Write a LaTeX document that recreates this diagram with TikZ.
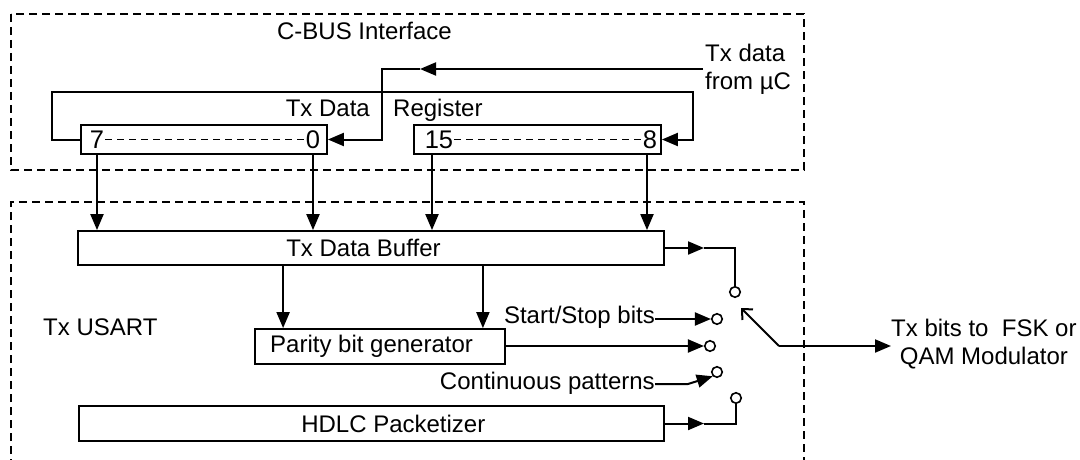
\documentclass[tikz,border=0pt]{standalone}
\usepackage{fontspec}
\setmainfont{Liberation Sans}
\usetikzlibrary{arrows.meta}
\begin{document}
\begin{tikzpicture}[x=1pt,y=-1pt,
  every node/.style={font=\fontsize{24}{28}\selectfont},
  box/.style={draw, line width=1.8pt, inner sep=0pt},
  lbl/.style={inner sep=0pt},
  num/.style={inner sep=1pt, font=\fontsize{25.5}{28}\selectfont},
  conn/.style={line width=2pt},
  arr/.style={conn, -{Triangle[length=16pt,width=13pt]}},
  openarr/.style={conn, -{Straight Barb[length=8pt,width=15pt]}},
  frame/.style={line width=2pt, dash pattern=on 8pt off 5pt},
  bitdash/.style={line width=1.8pt, dash pattern=on 7pt off 5pt},
  swc/.style={draw, circle, line width=1.6pt, minimum size=10.5pt, inner sep=0pt},
]
\useasboundingbox (0,0) rectangle (1080,460);
\clip (0,0) rectangle (1080,460);
\fill[white] (0,0) rectangle (1080,460);

% frames
\draw[frame] (11,14) rectangle (804,170);
\draw[frame] (11,480) -- (11,202) -- (804,202) -- (804,480);

\node[lbl, anchor=base] (cbus) at (364.5,40) {C-BUS Interface};

% register boxes
\node[box, minimum width=246pt, minimum height=29pt] (reg1) at (204,139.5) {};
\node[box, minimum width=247pt, minimum height=29pt] (reg2) at (537.5,139.5) {};
\node[num] (n7) at (97,139.5) {7};
\node[num] (n0) at (313,139.5) {0};
\node[num] (n15) at (439,139.5) {15};
\node[num] (n8) at (650,139.5) {8};
\draw[bitdash] (n7.east) -- (n0.west);
\draw[bitdash] (n15.east) -- (n8.west);

\node[lbl, anchor=base east] (txdl) at (370,117) {Tx Data};
\node[lbl, anchor=base west] (regl) at (393,117) {Register};

% input loop
\node[anchor=west, align=left, inner sep=2pt] (txin) at (703,69) {Tx data\\from µC};
\coordinate (a0) at (420,69);
\coordinate (t1) at (382,69);
\draw[arr] (txin.west) -- (a0);
\draw[arr] (a0) -- (t1) |- (reg1.east);

\coordinate (l1) at (52,92);
\coordinate (r1) at (693,92);
\draw[arr] (reg1.west) -| (l1) -- (r1) |- (reg2.east);

% buffer
\node[box, minimum width=586pt, minimum height=34pt] (buf) at (371,248) {};
\node[lbl, anchor=west] (buftxt) at ([xshift=209pt]buf.west) {Tx Data Buffer};

\coordinate (x15) at ([xshift=-7pt]n15.center);
\coordinate (x8) at ([xshift=-3pt]n8.center);
\draw[arr] (n7 |- reg1.south) -- (n7 |- buf.north);
\draw[arr] (n0 |- reg1.south) -- (n0 |- buf.north);
\draw[arr] (x15 |- reg2.south) -- (x15 |- buf.north);
\draw[arr] (x8 |- reg2.south) -- (x8 |- buf.north);

% parity
\node[box, minimum width=250pt, minimum height=35pt] (par) at (380,346.5) {};
\node[lbl, anchor=base west] (partxt) at (270,352) {Parity bit generator};
\coordinate (p1) at ([xshift=29pt]par.north west);
\coordinate (p2) at ([xshift=-23pt]par.north east);
\draw[arr] (p1 |- buf.south) -- (p1);
\draw[arr] (p2 |- buf.south) -- (p2);

% HDLC
\node[box, minimum width=585pt, minimum height=35pt] (hdlc) at (371.5,423.5) {};
\node[lbl, anchor=west] (hdlctxt) at ([xshift=223pt]hdlc.west) {HDLC Packetizer};

\node[lbl, anchor=base west] (usart) at (43,335) {Tx USART};

% switch contacts
\node[swc] (c1) at (735,292) {};
\node[swc] (c2) at (717,319) {};
\node[swc] (c3) at (710,346) {};
\node[swc] (c4) at (717,372) {};
\node[swc] (c5) at (736,398) {};

\coordinate (m1) at (704,248);
\draw[arr] (buf.east) -- (m1);
\draw[conn] (m1) -| (c1.north);

\node[lbl, anchor=base east] (ss) at (655,323) {Start/Stop bits};
\draw[arr] (ss.east |- c2) -- (c2.west);

\draw[arr] (par.east |- c3) -- (c3.west);

\node[lbl, anchor=base east] (cp) at (655,389) {Continuous patterns};
\coordinate (k1) at (688,384);
\draw[arr] (cp.east |- k1) -- (k1) -- (c4.south west);

\coordinate (m5) at (704,423.5);
\draw[arr] (hdlc.east) -- (m5);
\draw[conn] (m5) -| (c5.south);

% switch arm and output
\coordinate (swp) at (779,346);
\coordinate (swt) at (741,308);
\draw[openarr] (swp) -- (swt);
\node[align=center, inner sep=0pt, anchor=west] (out) at (891,344) {Tx bits to\ \ FSK or\\QAM Modulator};
\draw[arr] (swp) -- (out.west |- swp);
\end{tikzpicture}
\end{document}
